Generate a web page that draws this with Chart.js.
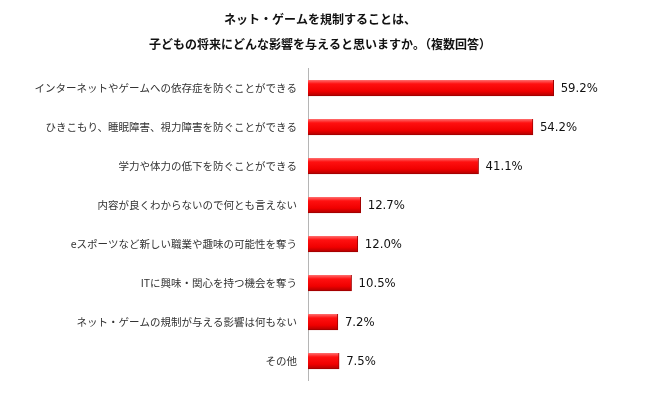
<!DOCTYPE html>
<html>
<head>
<meta charset="utf-8">
<script src="https://cdn.jsdelivr.net/npm/chart.js@4.4.1/dist/chart.umd.min.js"></script>
<style>
  body { margin: 0; background: #fff; }
  #wrap { width: 650px; height: 393px; position: relative; }
</style>
</head>
<body>
<div id="wrap"><canvas id="effectChart"></canvas></div>
<script>
// Data
const titleLines = [
    'ネット・ゲームを規制することは、',
    '子どもの将来にどんな影響を与えると思いますか。（複数回答）'
];
const categories = [
    'インターネットやゲームへの依存症を防ぐことができる',
    'ひきこもり、睡眠障害、視力障害を防ぐことができる',
    '学力や体力の低下を防ぐことができる',
    '内容が良くわからないので何とも言えない',
    'eスポーツなど新しい職業や趣味の可能性を奪う',
    'ITに興味・関心を持つ機会を奪う',
    'ネット・ゲームの規制が与える影響は何もない',
    'その他'
];
const percentValues = [59.2, 54.2, 41.1, 12.7, 12.0, 10.5, 7.2, 7.5];

// red bar with a light top edge and darker bottom, like the original
function barGradient(context) {
    const chart = context.chart;
    const meta = chart.getDatasetMeta(context.datasetIndex);
    const bar = meta.data[context.dataIndex];
    if (!bar || !isFinite(bar.y) || !bar.height) return '#ff0000';
    const top = bar.y - bar.height / 2;
    const g = chart.ctx.createLinearGradient(0, top, 0, top + bar.height);
    g.addColorStop(0, '#ff7070');
    g.addColorStop(0.25, '#ff1010');
    g.addColorStop(0.7, '#f00000');
    g.addColorStop(1, '#b00000');
    return g;
}

// value labels to the right of each bar
const valueLabels = {
    id: 'valueLabels',
    afterDatasetsDraw(chart) {
        const ctx = chart.ctx;
        const meta = chart.getDatasetMeta(0);
        ctx.save();
        ctx.font = '13px "DejaVu Sans Condensed", "DejaVu Sans", sans-serif';
        ctx.fillStyle = '#111';
        ctx.textBaseline = 'middle';
        meta.data.forEach(function (bar, i) {
            ctx.fillText(percentValues[i].toFixed(1) + '%', bar.x + 7, bar.y + 1);
        });
        ctx.restore();
    }
};

const ctx = document.getElementById('effectChart').getContext('2d');
const chart = new Chart(ctx, {
    type: 'bar',
    data: {
        labels: categories,
        datasets: [{
            data: percentValues,
            backgroundColor: barGradient,
            borderColor: '#a00000',
            borderWidth: { bottom: 1, right: 1, top: 0, left: 0 },
            borderSkipped: false,
            barThickness: 16
        }]
    },
    options: {
        indexAxis: 'y',
        responsive: true,
        maintainAspectRatio: false,
        animation: false,
        layout: { padding: { left: 0, right: 10, top: 0, bottom: 12.5 } },
        plugins: {
            legend: { display: false },
            tooltip: { enabled: false },
            title: {
                display: true,
                text: titleLines,
                color: '#111',
                font: { family: '"Noto Sans CJK JP", sans-serif', size: 12, weight: 'bold', lineHeight: 2.08 },
                padding: { top: 7, bottom: 11.5 }
            }
        },
        scales: {
            x: {
                display: false,
                min: 0,
                max: 80
            },
            y: {
                grid: { display: false, drawTicks: false },
                border: { display: true, color: '#b5b5b5', width: 1 },
                ticks: {
                    color: '#333',
                    padding: 11,
                    font: { family: '"Noto Sans CJK JP", sans-serif', size: 10.5 }
                },
                afterFit: function (scale) {
                    scale.width = 308;
                    // keep the label padding from eating into the plot height
                    scale.paddingTop = 0;
                    scale.paddingBottom = 0;
                }
            }
        }
    },
    plugins: [valueLabels]
});
// second pass so the gradients know where each bar sits
chart.update();
</script>
</body>
</html>
